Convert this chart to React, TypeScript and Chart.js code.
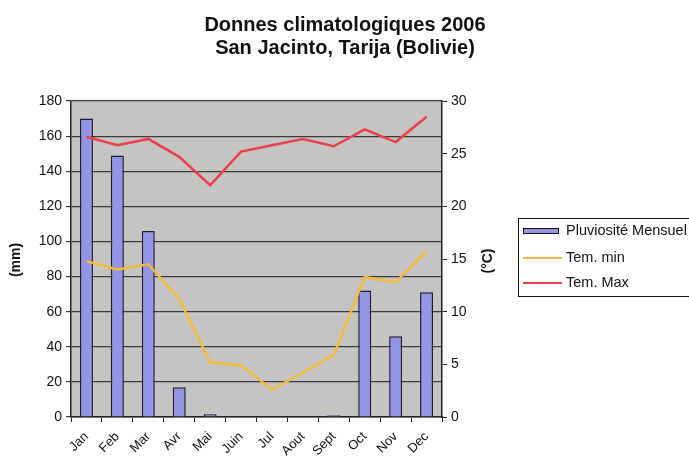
import React, { useEffect, useRef } from "react";
import { Chart, registerables } from "chart.js";

Chart.register(...registerables);

const months = ["Jan", "Feb", "Mar", "Avr", "Mai", "Juin", "Jul", "Aout", "Sept", "Oct", "Nov", "Dec"];
const pluie = [170, 149, 106, 17, 1.5, 0, 0, 0, 1, 72, 46, 71];
const tempMin = [14.8, 14.0, 14.5, 11.2, 5.2, 4.9, 2.6, 4.2, 5.9, 13.3, 12.8, 15.7];
const tempMax = [26.6, 25.8, 26.4, 24.7, 22.0, 25.2, 25.8, 26.4, 25.7, 27.3, 26.1, 28.5];
const titleLines = ["Donnes climatologiques 2006", "San Jacinto, Tarija (Bolivie)"];
const legendLabels = ["Pluviosité Mensuel", "Tem. min", "Tem. Max"];

const FONT = "'Liberation Sans', Arial, sans-serif";
const BAR_COLOR = "#9494e6";
const MIN_COLOR = "#f0bc3c";
const MAX_COLOR = "#e8404c";

export default function App() {
  const ref = useRef<HTMLCanvasElement>(null);
  useEffect(() => {
    if (!ref.current) return;
    const decor = {
      id: "decor",
      beforeDraw(chart: any) {
        const { ctx, chartArea: a } = chart;
        ctx.save();
        ctx.fillStyle = "#ffffff";
        ctx.fillRect(0, 0, chart.width, chart.height);
        ctx.fillStyle = "#c6c3c3";
        ctx.fillRect(a.left, a.top, a.right - a.left, a.bottom - a.top);
        ctx.restore();
      },
      afterDraw(chart: any) {
        const { ctx } = chart;
        ctx.save();
        ctx.fillStyle = "#111";
        ctx.textAlign = "center";
        ctx.textBaseline = "middle";
        ctx.font = `bold 20px ${FONT}`;
        ctx.fillText(titleLines[0], 345, 25);
        ctx.fillText(titleLines[1], 345, 48);
        // axis titles
        ctx.font = `bold 14px ${FONT}`;
        ctx.save();
        ctx.translate(16, 260);
        ctx.rotate(-Math.PI / 2);
        ctx.fillText("(mm)", 0, 0);
        ctx.restore();
        ctx.save();
        ctx.translate(488, 261);
        ctx.rotate(-Math.PI / 2);
        ctx.fillText("(°C)", 0, 0);
        ctx.restore();
        // legend
        ctx.strokeStyle = "#111";
        ctx.lineWidth = 1;
        ctx.strokeRect(518.5, 218.5, 200, 78);
        ctx.fillStyle = BAR_COLOR;
        ctx.fillRect(523, 228, 36, 6);
        ctx.strokeRect(523.5, 228.5, 35, 5);
        ctx.lineWidth = 2;
        ctx.strokeStyle = MIN_COLOR;
        ctx.beginPath();
        ctx.moveTo(523, 258);
        ctx.lineTo(562, 258);
        ctx.stroke();
        ctx.strokeStyle = MAX_COLOR;
        ctx.beginPath();
        ctx.moveTo(523, 283);
        ctx.lineTo(562, 283);
        ctx.stroke();
        ctx.fillStyle = "#111";
        ctx.textAlign = "left";
        ctx.font = `14.5px ${FONT}`;
        ctx.fillText(legendLabels[0], 566, 231);
        ctx.fillText(legendLabels[1], 566, 258);
        ctx.fillText(legendLabels[2], 566, 283);
        ctx.restore();
      },
    };
    const chart = new Chart(ref.current, {
      type: "bar",
      data: {
        labels: months,
        datasets: [
          {
            type: "line",
            label: legendLabels[2],
            data: tempMax,
            yAxisID: "y1",
            borderColor: MAX_COLOR,
            borderWidth: 2.5,
            pointRadius: 0,
            tension: 0,
            order: 0,
          } as any,
          {
            type: "line",
            label: legendLabels[1],
            data: tempMin,
            yAxisID: "y1",
            borderColor: MIN_COLOR,
            borderWidth: 2.5,
            pointRadius: 0,
            tension: 0,
            order: 1,
          },
          {
            type: "bar",
            label: legendLabels[0],
            data: pluie,
            yAxisID: "y",
            backgroundColor: BAR_COLOR,
            borderColor: "#1c1c30",
            borderWidth: 1.5,
            barPercentage: 0.42,
            categoryPercentage: 1,
            order: 2,
          },
        ],
      },
      options: {
        responsive: false,
        animation: false,
        devicePixelRatio: 1,
        layout: { padding: { top: 101, right: 207, left: 0, bottom: 0 } },
        plugins: { legend: { display: false }, title: { display: false }, tooltip: { enabled: false } },
        scales: {
          x: {
            offset: true,
            grid: { offset: true, drawOnChartArea: false, drawTicks: true, tickLength: 5, color: "#222" },
            border: { color: "#222", width: 1.5 },
            ticks: { minRotation: 45, maxRotation: 45, autoSkip: false, color: "#111", font: { family: FONT, size: 13 }, padding: 7 },
            afterFit: (s: any) => { s.height = 43; },
          },
          y: {
            position: "left",
            min: 0,
            max: 180,
            ticks: { stepSize: 20, color: "#111", font: { family: FONT, size: 14 }, padding: 4 },
            grid: { color: "#3a3a3a", lineWidth: 1.2, tickLength: 5 },
            border: { color: "#222", width: 1.5 },
            afterFit: (s: any) => { s.width = 71; },
          },
          y1: {
            position: "right",
            min: 0,
            max: 30,
            ticks: { stepSize: 5, color: "#111", font: { family: FONT, size: 14 }, padding: 4 },
            grid: { drawOnChartArea: false, color: "#222", tickLength: 5 },
            border: { color: "#222", width: 1.5 },
            afterFit: (s: any) => { s.width = 40; },
          },
        },
      },
      plugins: [decor],
    });
    return () => chart.destroy();
  }, []);
  return (
    <div style={{ position: "fixed", left: 0, top: 0, width: 689, height: 460 }}>
      <canvas ref={ref} width={689} height={460} style={{ width: 689, height: 460 }} />
    </div>
  );
}
